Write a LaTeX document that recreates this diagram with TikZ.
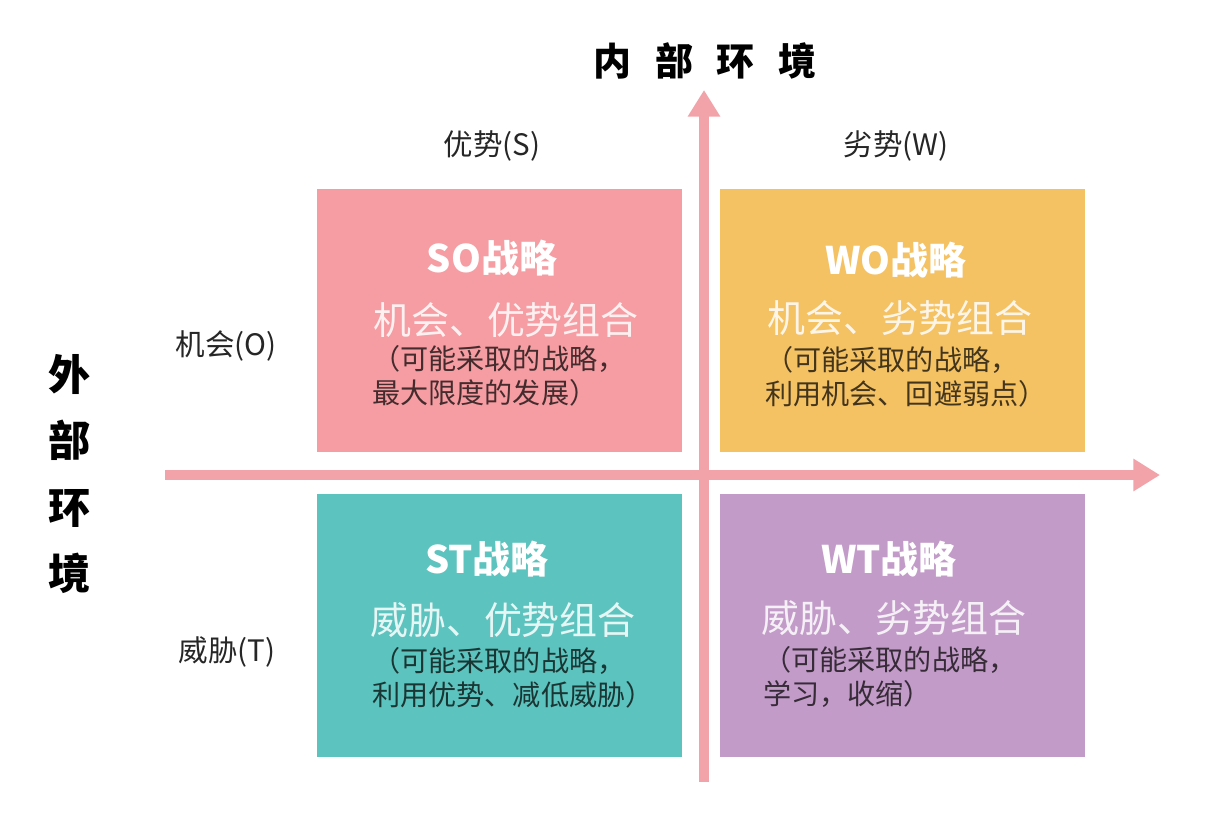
\documentclass[tikz,border=0pt]{standalone}
\usepackage{fontspec}
\usepackage{xcolor}
\usetikzlibrary{arrows.meta,positioning}
\newfontfamily\cjk{Noto Sans CJK SC}
\definecolor{axisC}{HTML}{F2A3A9}
\definecolor{soC}{HTML}{F59DA2}
\definecolor{woC}{HTML}{F4C163}
\definecolor{stC}{HTML}{5DC3BE}
\definecolor{wtC}{HTML}{C29BC8}

\begin{document}
\begin{tikzpicture}[x=0.025cm,y=-0.025cm,>=Stealth,font=\cjk,
 quad/.style={draw=none,minimum width=9.125cm,minimum height=6.575cm,inner sep=0pt},
 ttl/.style={text=white,font=\cjk\fontsize{27pt}{30pt}\selectfont\bfseries,inner sep=0pt},
 sub/.style={text=white,text opacity=0.85,font=\cjk\fontsize{27pt}{30pt}\selectfont,inner sep=0pt},
 body/.style={text=black,text opacity=0.72,align=left,anchor=west,inner sep=0pt,
  font=\cjk\fontsize{20pt}{24pt}\selectfont},
 lab/.style={text=black!85,font=\cjk\fontsize{21pt}{24pt}\selectfont,inner sep=0pt},
 axis/.style={draw=axisC,line width=7pt,-{Triangle[length=19pt,width=22pt]}}]
\useasboundingbox (0,0) rectangle (1208,828);
% quadrants
\node[quad,fill=soC] (so) at (499.5,320.5) {};
\node[quad,fill=woC] (wo) at (902.5,320.5) {};
\node[quad,fill=stC] (st) at (499.5,625.5) {};
\node[quad,fill=wtC] (wt) at (902.5,625.5) {};
% axes
\coordinate (xl) at (165,475);
\coordinate (xr) at (1160,475);
\coordinate (yb) at (704,782);
\coordinate (yt) at (704,90);
\draw[axis] (xl) -- (xr);
\draw[axis] (yb) -- (yt);
% axis titles
\node[font=\cjk\fontsize{27pt}{30pt}\selectfont\bfseries,inner sep=0pt] (inner) at (705,61)
 {内\hspace{0.63em}部\hspace{0.63em}环\hspace{0.63em}境};
\node[font=\cjk\fontsize{30pt}{47pt}\selectfont\bfseries,align=center,inner sep=0pt] (outer) at (70,474)
 {外\\部\\环\\境};
\node[lab] (ls) at (492,146) {优势(S)};
\node[lab] (lw) at (896,146) {劣势(W)};
\node[lab] (lo) at (226,346) {机会(O)};
\node[lab] (lt) at (227,652) {威胁(T)};
% SO
\node[ttl] (sot) at (492,258) {SO战略};
\node[sub] (sos) at (506,320) {机会、优势组合};
\node[body] (sob) at (372,376) {（可能采取的战略，\\最大限度的发展）};
% WO
\node[ttl] (wot) at (896,260) {WO战略};
\node[sub] (wos) at (900,318) {机会、劣势组合};
\node[body] (wob) at (765,377) {（可能采取的战略，\\利用机会、回避弱点）};
% ST
\node[ttl] (stt) at (487,559) {ST战略};
\node[sub] (sts) at (503,620) {威胁、优势组合};
\node[body] (stb) at (372,678) {（可能采取的战略，\\利用优势、减低威胁）};
% WT
\node[ttl] (wtt) at (889,559) {WT战略};
\node[sub] (wts) at (894,618) {威胁、劣势组合};
\node[body] (wtb) at (763,677) {（可能采取的战略，\\学习，收缩）};
\end{tikzpicture}
\end{document}
